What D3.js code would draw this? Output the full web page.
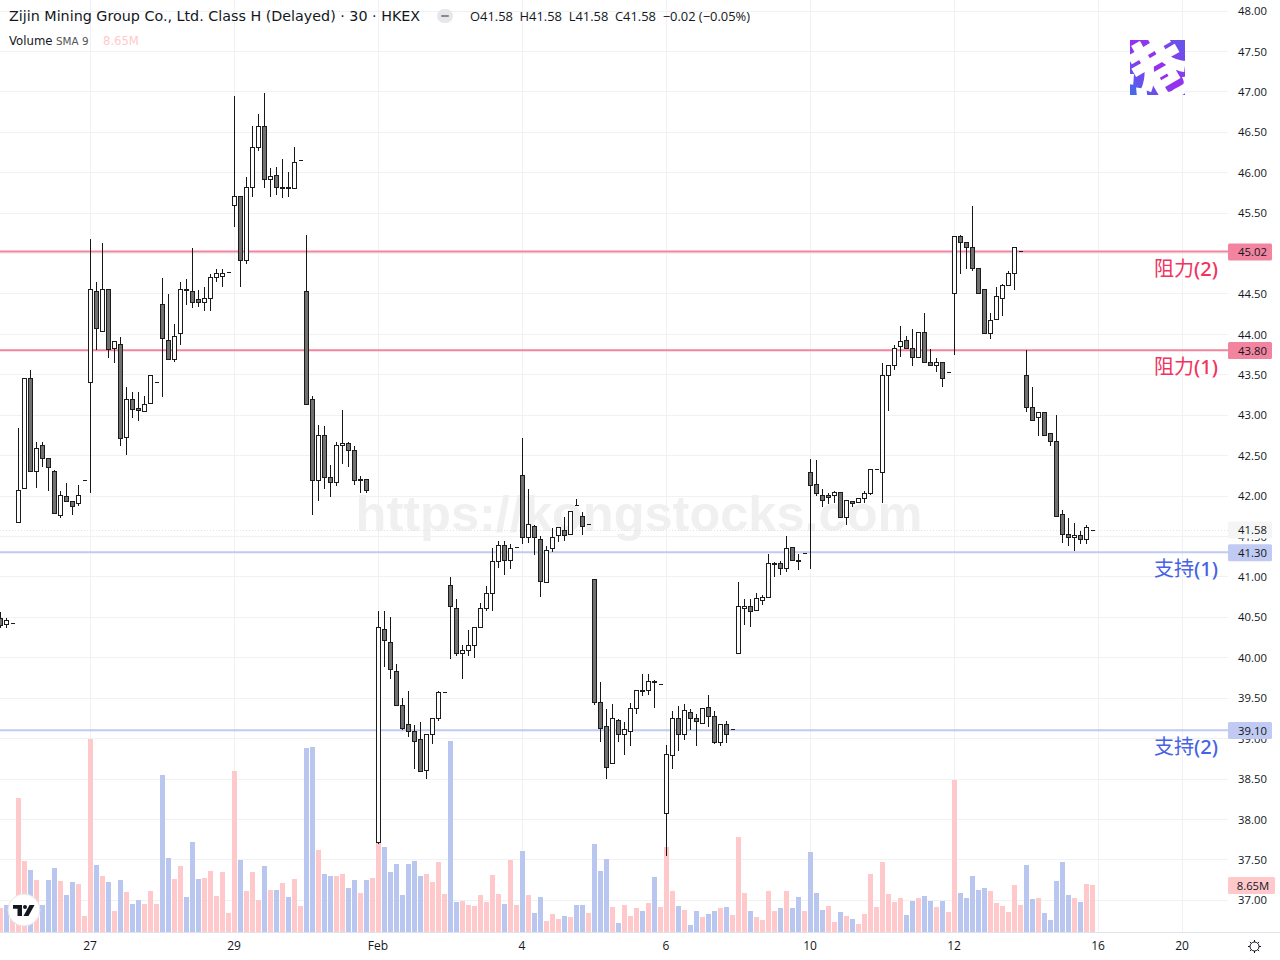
<!DOCTYPE html>
<html>
<head>
<meta charset="utf-8">
<script src="https://cdn.jsdelivr.net/npm/d3@7"></script>
<style>
html,body{margin:0;padding:0;background:#fff;overflow:hidden}
svg{display:block}
</style>
</head>
<body>
<svg id="c" width="1280" height="960"></svg>
<script>
const open=[40.48,40.41,40.42,41.67,42.09,43.46,42.30,42.62,42.46,42.30,
41.76,41.99,41.93,41.91,42.19,43.40,44.53,44.04,44.55,43.82,
43.88,42.72,43.20,43.08,43.04,43.14,43.40,44.37,43.92,43.69,
44.01,44.56,44.53,44.43,44.40,44.44,44.70,44.72,44.76,45.59,
45.70,44.92,45.82,46.31,46.57,45.92,45.96,45.82,45.82,45.80,
46.15,44.53,43.19,42.19,42.75,42.23,42.17,42.62,42.65,42.56,
42.20,42.20,null,37.71,40.35,40.19,39.83,39.41,39.17,39.09,
38.99,38.61,39.05,39.25,39.57,40.90,40.61,40.05,40.09,40.15,
40.37,40.61,40.79,41.19,41.39,41.20,41.36,42.26,41.49,41.62,
41.46,40.93,41.35,41.51,41.58,41.52,41.88,41.75,41.65,40.97,
39.45,39.15,38.69,39.22,39.05,39.09,39.37,39.60,39.60,39.71,
39.67,38.07,38.79,39.25,39.05,39.32,39.25,39.19,39.38,39.27,
38.95,39.17,39.11,40.05,40.61,40.63,40.58,40.71,40.74,41.16,
41.16,41.10,41.36,41.20,41.29,42.29,42.14,42.01,42.01,42.01,
42.04,41.73,41.93,41.92,41.97,42.03,42.33,42.29,43.49,43.62,
43.85,43.92,43.82,43.71,44.02,43.65,43.62,43.65,43.53,44.50,
45.21,45.14,45.07,44.81,44.56,44.01,44.18,44.44,44.60,44.75,
45.02,43.49,43.10,42.97,43.03,42.77,42.68,41.77,41.52,41.49,
41.51,41.46,41.58];
const high=[40.57,40.50,40.42,42.85,43.45,43.56,42.67,42.67,42.46,42.33,
42.07,42.17,41.93,42.14,42.19,45.18,44.66,45.14,44.55,43.92,
43.97,43.36,43.29,43.29,43.24,43.49,43.40,44.70,44.50,44.13,
44.65,44.69,45.07,44.55,44.59,44.75,44.81,44.81,44.76,46.95,
45.70,45.95,46.58,46.73,46.99,46.06,46.08,46.17,46.01,46.32,
46.15,45.23,43.24,42.88,42.87,42.39,42.67,43.07,42.67,42.62,
42.26,42.20,null,40.58,40.58,40.51,39.93,39.51,39.60,39.17,
39.21,39.05,39.25,39.60,39.57,41.00,40.73,40.16,40.35,40.39,
40.68,40.89,41.36,41.45,41.45,41.41,41.36,42.72,42.09,41.65,
41.51,41.39,41.61,41.62,41.75,41.81,41.97,41.81,41.65,40.97,
39.71,39.37,39.43,39.25,39.21,39.45,39.60,39.80,39.80,39.73,
39.67,38.93,39.35,39.41,39.43,39.37,39.31,39.38,39.54,39.35,
39.19,39.22,39.11,40.94,40.73,40.73,40.81,40.78,41.29,41.19,
41.20,41.51,41.36,41.29,41.29,42.46,42.45,42.09,42.04,42.07,
42.04,41.94,41.94,41.97,42.07,42.33,42.33,43.65,43.62,43.87,
44.11,43.98,44.07,44.04,44.27,43.82,43.71,43.66,43.53,45.21,
45.23,45.14,45.59,44.81,44.56,44.27,44.59,44.63,44.79,45.08,
45.02,43.81,43.36,43.03,43.04,42.77,43.01,41.84,41.73,41.67,
41.57,41.65,41.58];
const low=[40.37,40.37,40.42,41.67,42.09,42.30,42.10,42.36,42.07,41.78,
41.73,41.93,41.77,41.88,42.19,42.04,43.81,44.04,43.71,43.65,
42.62,42.51,42.97,42.94,43.04,43.14,43.40,43.23,43.69,43.67,
43.88,44.37,44.33,44.34,44.29,44.30,44.65,44.59,44.76,45.33,
44.59,44.88,45.70,46.27,45.82,45.70,45.73,45.69,45.70,45.80,
46.15,43.13,41.77,41.94,42.09,41.99,42.13,42.40,42.36,42.14,
42.04,42.04,null,37.70,39.89,39.74,39.41,39.11,39.03,38.63,
38.59,38.51,38.94,39.22,39.57,39.99,40.03,39.74,40.03,40.00,
40.37,40.58,40.58,41.12,41.03,41.10,41.36,41.41,41.42,41.28,
40.76,40.93,41.31,41.44,41.45,41.52,41.88,41.52,41.65,39.42,
38.96,38.51,38.69,38.96,38.80,38.91,39.31,39.53,39.54,39.38,
39.67,37.55,38.63,38.85,38.99,39.11,38.91,39.19,39.15,38.94,
38.91,38.95,39.11,40.05,40.41,40.39,40.58,40.66,40.74,41.00,
41.03,41.07,41.20,41.09,41.29,41.10,42.01,41.87,41.91,41.92,
41.73,41.65,41.87,41.92,41.92,42.02,42.33,41.92,43.06,43.56,
43.73,43.82,43.62,43.71,43.65,43.61,43.54,43.35,43.53,43.75,
44.75,44.81,44.79,44.50,44.01,43.95,44.18,44.23,44.60,44.56,
45.02,43.04,42.94,42.75,42.75,42.62,41.75,41.42,41.39,41.33,
41.41,41.41,41.58];
const close=[40.40,40.46,40.42,42.07,43.45,42.30,42.59,42.46,42.35,41.78,
42.01,41.93,41.87,42.01,42.19,44.56,44.07,44.56,43.81,43.91,
42.71,43.20,43.07,43.06,43.13,43.49,43.40,43.95,43.69,43.97,
44.56,44.54,44.40,44.40,44.44,44.70,44.75,44.75,44.76,45.70,
44.92,45.82,46.31,46.57,45.92,45.95,45.82,45.81,45.80,46.12,
46.15,43.13,42.19,42.75,42.23,42.17,42.62,42.65,42.56,42.19,
42.19,42.07,null,40.37,40.21,39.85,39.41,39.13,39.09,38.96,
38.59,39.05,39.25,39.57,39.57,40.63,40.05,40.09,40.15,40.37,
40.61,40.79,41.19,41.39,41.20,41.35,41.36,41.49,41.65,41.49,
40.94,41.33,41.49,41.61,41.51,41.81,41.88,41.62,41.65,39.45,
39.13,38.64,39.25,39.05,39.11,39.37,39.60,39.58,39.71,39.69,
39.67,38.80,39.25,39.05,39.35,39.25,39.21,39.37,39.27,38.95,
39.17,39.05,39.11,40.63,40.63,40.57,40.73,40.74,41.16,41.15,
41.10,41.35,41.20,41.19,41.29,42.13,42.03,41.94,41.98,42.04,
41.73,41.94,41.91,41.97,42.03,42.33,42.33,43.49,43.62,43.82,
43.91,43.82,43.72,44.02,43.65,43.61,43.65,43.45,43.53,45.21,
45.14,45.08,44.81,44.50,44.01,44.17,44.47,44.60,44.75,45.07,
45.02,43.10,42.94,43.03,42.75,42.68,41.75,41.52,41.49,41.51,
41.46,41.61,41.58];
const volume=[4.42,4.97,4.60,24.66,13.06,11.41,9.57,4.97,9.57,11.78,
9.38,6.81,9.20,8.83,2.94,35.51,12.33,10.30,9.20,3.86,
9.57,7.36,5.15,5.89,5.15,7.54,5.15,28.89,13.62,9.75,
12.14,6.44,16.56,9.75,9.94,11.22,6.62,11.04,3.50,29.62,
13.25,7.54,11.04,5.89,12.14,7.73,7.73,9.02,6.44,9.75,
4.78,33.86,34.04,15.09,10.67,10.30,10.30,10.67,8.10,9.57,
7.18,9.57,9.94,16.38,15.64,11.04,12.51,6.81,12.51,13.06,
10.30,10.67,9.20,12.88,6.99,35.14,5.52,5.70,4.97,4.78,
6.81,5.52,10.49,6.99,5.15,13.25,4.97,14.90,6.81,3.50,
6.44,2.02,3.31,2.39,2.94,2.76,4.97,4.97,3.50,16.19,
11.22,13.43,4.60,1.66,4.97,2.94,4.42,3.86,5.34,10.12,
4.60,15.64,7.54,4.78,4.05,1.29,3.86,2.76,3.31,3.86,
4.42,4.60,3.13,17.48,7.18,3.86,2.76,2.21,7.54,3.86,
4.42,7.54,4.42,6.44,3.86,14.72,7.18,4.05,4.78,1.84,
3.68,2.94,2.39,1.47,3.31,10.67,4.60,12.88,6.99,5.52,
6.26,3.13,5.70,6.26,6.62,5.70,4.60,5.70,3.68,27.97,
7.18,6.26,10.30,7.73,8.10,7.54,5.34,4.78,3.68,8.65,
4.97,12.33,6.07,6.26,3.50,2.21,9.38,12.88,6.81,6.26,
5.52,8.83,8.65];
const volumeSide="pbpppbpbbb"+"pbbpppbpbp"+"bpbbpppbbp"+"pbbbpppppp"+"bpppbpbpbp"+"pbbpbbppbb"+"pbppbbbbbb"+"bppppbbppp"+"ppppbppbpb"+"bpppbpbbpb"+"bbpbpppbpb"+"pppbpbbpbb"+"pbpppbpppp"+"bpbbpbbbpp"+"bpbppppppp"+"pbbpbbpbpp"+"bbbbbppppp"+"pbbpbbbbbp"+"bpp";
const priceTicks=[37,37.5,38,38.5,39,39.5,40,40.5,41,41.5,42,42.5,43,43.5,44,44.5,45,45.5,46,46.5,47,47.5,48];
const dateTickIndex=[15,39,63,87,111,135,159,183,197];
const dateTickLabels=["27","29","Feb","4","6","10","12","16","20"];
const levels=[45.02,43.80,41.30,39.10];
const levelKinds=["r","r","s","s"];
const levelNames=["阻力","阻力","支持","支持"];
const levelNums=["(2)","(1)","(1)","(2)"];
const lastPrice=41.58;
const lastVolume=8.65;

const FONT='"Open Sans","Noto Sans",sans-serif';
const svg=d3.select("#c").style("font-family",FONT);
const PANE=1228;
const x=d3.scaleLinear().domain([0,213]).range([0.5,1278.5]);
const y=d3.scaleLinear().domain([37,48]).range([900.3,11]);
const v=d3.scaleLinear().domain([0,36.8]).range([932,732]);
const snap=n=>Math.round(n-0.5)+0.5;

const grid=svg.append("g").attr("shape-rendering","crispEdges");
grid.selectAll("line.h").data(priceTicks).join("line").attr("class","h")
 .attr("x1",0).attr("x2",PANE).attr("y1",d=>snap(y(d))).attr("y2",d=>snap(y(d))).attr("stroke","#f0f1f3");
grid.selectAll("line.v").data(dateTickIndex).join("line").attr("class","v")
 .attr("x1",d=>x(d)).attr("x2",d=>x(d)).attr("y1",0).attr("y2",932).attr("stroke","#f0f1f3");

// watermark
svg.append("text").attr("x",639).attr("y",531).attr("text-anchor","middle")
 .attr("font-family",'"Liberation Sans",Arial,sans-serif').attr("font-weight","bold").attr("font-size",50.5)
 .attr("fill","#f0f0f0").text("https://kongstocks.com");

// volume
const vols=volume.map((d,i)=>({i,d,s:volumeSide[i]}));
svg.append("g").attr("shape-rendering","crispEdges").selectAll("rect").data(vols).join("rect")
 .attr("x",d=>x(d.i)-2.5).attr("width",5)
 .attr("y",d=>v(d.d)).attr("height",d=>v(0)-v(d.d))
 .attr("fill",d=>d.s==="p"?"#ffc9cc":"#b9c6f0");

// last price dotted
svg.append("line").attr("x1",0).attr("x2",PANE).attr("y1",snap(y(lastPrice))).attr("y2",snap(y(lastPrice)))
 .attr("stroke","#e2e2e2").attr("stroke-dasharray","1 2");

// levels
const lv=levels.map((d,i)=>({d,k:levelKinds[i],n:levelNames[i],m:levelNums[i]}));
const lvCol=k=>k==="r"?"#f2849f":"#c0caf2";
const lvTxt=k=>k==="r"?"#f2335e":"#4563e4";
svg.append("g").selectAll("line").data(lv).join("line")
 .attr("x1",0).attr("x2",PANE).attr("y1",d=>y(d.d)-0.3).attr("y2",d=>y(d.d)-0.3)
 .attr("stroke",d=>lvCol(d.k)).attr("stroke-width",2);

// candles
const cs=open.map((o,i)=>({i,o,h:high[i],l:low[i],c:close[i]})).filter(d=>d.o!==null);
const cg=svg.append("g").attr("shape-rendering","crispEdges");
cg.selectAll("line").data(cs.filter(d=>d.h!==d.l)).join("line")
 .attr("x1",d=>x(d.i)).attr("x2",d=>x(d.i))
 .attr("y1",d=>snap(y(d.h))).attr("y2",d=>snap(y(d.l))).attr("stroke","#171717");
cg.selectAll("path").data(cs).join("path")
 .attr("d",d=>{
   const a=snap(y(Math.max(d.o,d.c))),b=snap(y(Math.min(d.o,d.c)));
   const l=x(d.i)-2,r=x(d.i)+2;
   return `M${l} ${a}H${r}V${b}H${l}Z`;
 })
 .attr("fill",d=>d.c>=d.o?"#fdfdfd":"#707070").attr("stroke","#1c1c1c");

// price axis
const yAxis=d3.axisRight(y).tickValues(priceTicks).tickFormat(d3.format(".2f")).tickSize(0);
const ya=svg.append("g").attr("transform","translate(1252.5,0)").call(yAxis);
ya.select(".domain").remove();
ya.selectAll("text").attr("x",0).attr("text-anchor","middle").attr("font-family",FONT).attr("font-size",11.3).attr("fill","#131722");

// date axis
const xAxis=d3.axisBottom(x).tickValues(dateTickIndex).tickFormat((d,i)=>dateTickLabels[i]).tickSize(0);
const xa=svg.append("g").attr("transform","translate(-1,932)").call(xAxis);
xa.select(".domain").remove();
xa.selectAll("text").attr("y",9).attr("font-family",FONT).attr("font-size",12).attr("fill","#131722");
svg.append("line").attr("x1",0).attr("x2",1280).attr("y1",932.5).attr("y2",932.5).attr("stroke","#e0e3eb");

// price labels
function tag(val,fill,txt,w){
 const g=svg.append("g");
 g.append("rect").attr("x",1228).attr("y",y(val)-8.5).attr("width",w).attr("height",17).attr("rx",1.5).attr("fill",fill);
 g.append("text").attr("x",1252.5).attr("y",y(val)+4).attr("text-anchor","middle").attr("font-size",11.3).attr("fill","#131722").text(txt);
}
tag(lastPrice,"#f5f5f5",d3.format(".2f")(lastPrice),44);
lv.forEach(d=>tag(d.d,lvCol(d.k),d3.format(".2f")(d.d),44));
{
 const g=svg.append("g");
 g.append("rect").attr("x",1228).attr("y",877).attr("width",47).attr("height",17).attr("rx",1.5).attr("fill","#ffc9cc");
 g.append("text").attr("x",1253).attr("y",890).attr("text-anchor","middle").attr("font-size",11.3).attr("fill","#131722").text(d3.format(".2f")(lastVolume)+"M");
}

// level names
const nameY=[276,374,576,754];
lv.forEach((d,i)=>{
 const t=svg.append("text").attr("x",1218).attr("y",nameY[i]).attr("text-anchor","end").attr("fill",lvTxt(d.k));
 t.append("tspan").attr("font-family",'"Noto Sans CJK SC"').attr("font-weight",400).attr("font-size",20).text(d.n);
 t.append("tspan").attr("font-family",'"Noto Sans","Open Sans",sans-serif').attr("font-weight",500).attr("font-size",20).text(d.m);
});

// header
const H='"DejaVu Sans",sans-serif';
svg.append("text").attr("x",9).attr("y",21).attr("font-family",H).attr("font-size",14.3).attr("fill","#131722").text("Zijin Mining Group Co., Ltd. Class H (Delayed) · 30 · HKEX");
svg.append("rect").attr("x",437).attr("y",9).attr("width",16).attr("height",14).attr("rx",7).attr("fill","#e6e7ea");
svg.append("rect").attr("x",441).attr("y",15).attr("width",8).attr("height",2).attr("rx",1).attr("fill","#888");
svg.append("text").attr("x",470).attr("y",21).attr("font-family",'"Open Sans",sans-serif').attr("font-size",12.9).attr("fill","#131722").text("O41.58  H41.58  L41.58  C41.58  −0.02 (−0.05%)").attr("xml:space","preserve");
svg.append("text").attr("x",9).attr("y",45).attr("font-family",H).attr("font-size",11.7).attr("fill","#131722").text("Volume");
svg.append("text").attr("x",56).attr("y",45).attr("font-family",H).attr("font-size",10.4).attr("fill","#555").text("SMA 9");
svg.append("text").attr("x",103).attr("y",45).attr("font-family",H).attr("font-size",11.6).attr("fill","#ffc9cc").text("8.65M");

// stamp image
const defs=svg.append("defs");
const gr=defs.append("linearGradient").attr("id","st").attr("x1",0).attr("y1",1).attr("x2",1).attr("y2",0);
gr.append("stop").attr("offset","0").attr("stop-color","#3f6ee8");
gr.append("stop").attr("offset","0.5").attr("stop-color","#9a2df0");
gr.append("stop").attr("offset","1").attr("stop-color","#5f5ae8");
defs.append("clipPath").attr("id","sc").append("rect").attr("x",1130).attr("y",40).attr("width",55).attr("height",55);
const st=svg.append("g").attr("clip-path","url(#sc)");
st.append("rect").attr("x",1130).attr("y",40).attr("width",55).attr("height",55).attr("fill","url(#st)");
st.append("text").attr("transform","translate(1166,97) rotate(-30)").attr("text-anchor","middle")
 .attr("font-family",'"Noto Sans CJK SC"').attr("font-weight",900).attr("font-size",72).attr("fill","#fff").text("港");

// TV badge
svg.append("circle").attr("cx",24).attr("cy",910).attr("r",16).attr("fill","#fff").attr("stroke","#e6e6e6");
const tv=svg.append("g").attr("fill","#131722");
tv.append("path").attr("d","M13 905H22V916H17.5V908.8H13Z");
tv.append("circle").attr("cx",25).attr("cy",907).attr("r",2);
tv.append("path").attr("d","M29.5 905H34.5L28.5 916H23.5Z");

// settings sun
const sun=svg.append("g").attr("transform","translate(1254.5,946.5)").attr("fill","none").attr("stroke","#131722");
sun.append("circle").attr("r",4.5);
d3.range(8).forEach(i=>{const a=i*Math.PI/4;sun.append("line").attr("x1",4.5*Math.cos(a)).attr("y1",4.5*Math.sin(a)).attr("x2",6.5*Math.cos(a)).attr("y2",6.5*Math.sin(a));});
</script>
</body>
</html>
